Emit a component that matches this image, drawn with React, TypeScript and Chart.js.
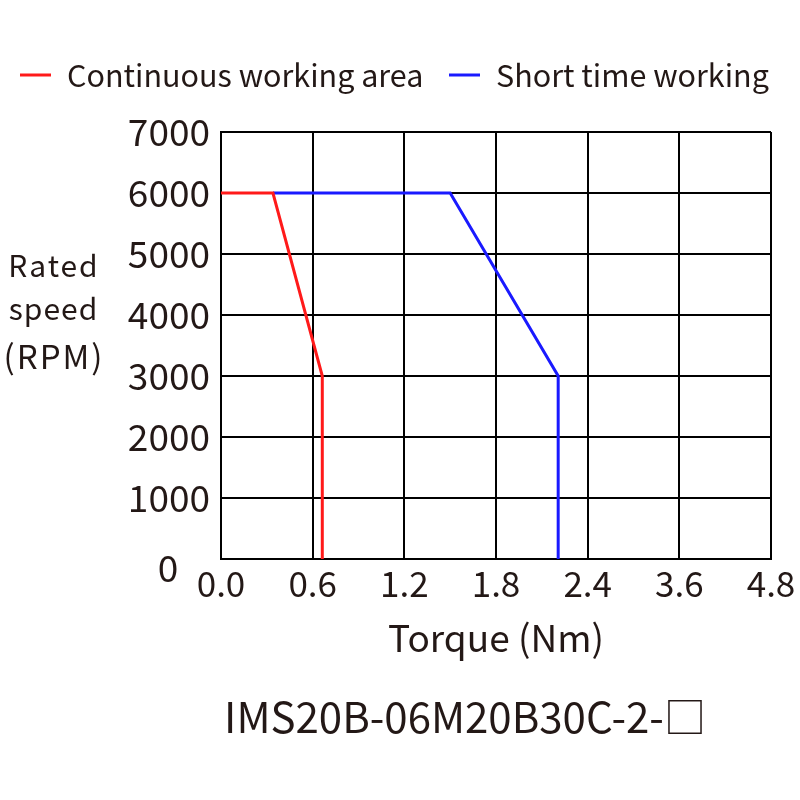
import React, { useEffect, useRef } from "react";
import { Chart, registerables } from "chart.js";

Chart.register(...registerables);

// ---- data ----
const xTickValues = [0, 0.6, 1.2, 1.8, 2.4, 3.6, 4.8];
const xTickLabels = ["0.0", "0.6", "1.2", "1.8", "2.4", "3.6", "4.8"];
const yTickMax = 7000;
const yTickStep = 1000;

const continuousTorque = [0, 0.34, 0.663, 0.663];
const continuousSpeed = [6000, 6000, 3000, 0];
const shortTorque = [0.34, 1.5, 2.207, 2.207];
const shortSpeed = [6000, 6000, 3000, 0];

const seriesNames = ["Continuous working area", "Short time working"];
const yTitleLines = ["Rated", "speed", "(RPM)"];
const xTitle = "Torque (Nm)";
const modelTitle = "IMS20B-06M20B30C-2-\u25A1";

const TEXT = "#231816";
const FONT = "'Noto Sans CJK SC', 'Noto Sans', sans-serif";

// map a torque value onto the evenly spaced (non-uniform valued) tick positions
function torqueToPos(t: number): number {
  for (let i = 0; i < xTickValues.length - 1; i++) {
    const a = xTickValues[i];
    const b = xTickValues[i + 1];
    if (t <= b) return i + (t - a) / (b - a);
  }
  return xTickValues.length - 1;
}

const toPoints = (xs: number[], ys: number[]) =>
  xs.map((x, i) => ({ x: torqueToPos(x), y: ys[i] }));

const decorPlugin = {
  id: "decor",
  afterDraw(chart: any) {
    const ctx = chart.ctx;
    const area = chart.chartArea;
    ctx.save();
    ctx.fillStyle = TEXT;
    ctx.textBaseline = "middle";

    // legend
    ctx.font = `30.5px ${FONT}`;
    const legendY = 75;
    const starts = [20, 449];
    chart.data.datasets.forEach((ds: any, i: number) => {
      const x0 = starts[i];
      ctx.strokeStyle = ds.borderColor;
      ctx.lineWidth = 3;
      ctx.beginPath();
      ctx.moveTo(x0, legendY);
      ctx.lineTo(x0 + 31, legendY);
      ctx.stroke();
      ctx.textAlign = "left";
      ctx.fillText(ds.label, x0 + 47, legendY);
    });

    // y axis title (horizontal, stacked)
    ctx.textAlign = "center";
    const yy = [266, 309, 356];
    const sizes = [30, 30, 33];
    const spacing = [2, 1, 2];
    yTitleLines.forEach((t, i) => {
      ctx.font = `${sizes[i]}px ${FONT}`;
      (ctx as any).letterSpacing = `${spacing[i]}px`;
      ctx.fillText(t, 53 + spacing[i] / 2, yy[i]);
    });
    (ctx as any).letterSpacing = "0px";

    // zero label of y axis (offset below the axis)
    ctx.font = `37px ${FONT}`;
    ctx.fillText("0", 168, area.bottom + 9);

    // model title
    ctx.font = `42px ${FONT}`;
    ctx.fillText(modelTitle, 465, 717);
    ctx.restore();
  },
};

export default function App() {
  const ref = useRef<HTMLCanvasElement | null>(null);

  useEffect(() => {
    document.body.style.margin = "0";
    const canvas = ref.current!;
    const chart = new Chart(canvas, {
      type: "line",
      data: {
        datasets: [
          {
            label: seriesNames[0],
            data: toPoints(continuousTorque, continuousSpeed),
            borderColor: "#ff1a1a",
            backgroundColor: "#ff1a1a",
            borderWidth: 3,
            pointRadius: 0,
            tension: 0,
          },
          {
            label: seriesNames[1],
            data: toPoints(shortTorque, shortSpeed),
            borderColor: "#1a1aff",
            backgroundColor: "#1a1aff",
            borderWidth: 3,
            pointRadius: 0,
            tension: 0,
          },
        ],
      },
      options: {
        responsive: false,
        animation: false,
        layout: { padding: { top: 132, left: 0, right: 29, bottom: 0 } },
        plugins: {
          legend: { display: false },
          tooltip: { enabled: false },
        },
        scales: {
          x: {
            type: "linear",
            min: 0,
            max: xTickValues.length - 1,
            afterFit: (s: any) => {
              s.height = 241;
            },
            ticks: {
              stepSize: 1,
              autoSkip: false,
              maxRotation: 0,
              padding: 4,
              color: TEXT,
              font: { family: FONT, size: 35 },
              callback: (v: any) => xTickLabels[Math.round(Number(v))] ?? "",
            },
            grid: { color: "#000", lineWidth: 2, drawTicks: false },
            border: { color: "#000", width: 2 },
            title: {
              display: true,
              text: xTitle,
              color: TEXT,
              font: { family: FONT, size: 37 },
              padding: { top: 0, bottom: 140 },
            },
          },
          y: {
            min: 0,
            max: yTickMax,
            afterFit: (s: any) => {
              s.width = 221;
            },
            ticks: {
              stepSize: yTickStep,
              padding: 11,
              crossAlign: "center",
              color: TEXT,
              font: { family: FONT, size: 37 },
              callback: (v: any) => (Number(v) === 0 ? "" : String(v)),
            },
            grid: { color: "#000", lineWidth: 2, drawTicks: false },
            border: { color: "#000", width: 2 },
          },
        },
      },
      plugins: [decorPlugin],
    });
    return () => chart.destroy();
  }, []);

  return (
    <div style={{ width: 800, height: 800, background: "#fff" }}>
      <canvas ref={ref} width={800} height={800} style={{ display: "block" }} />
    </div>
  );
}
